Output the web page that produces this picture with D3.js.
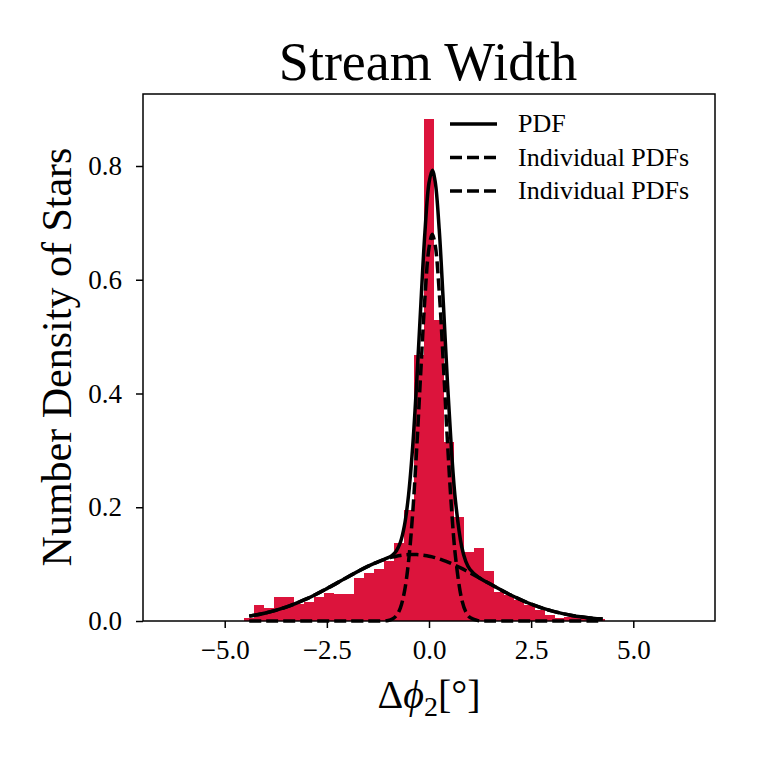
<!DOCTYPE html>
<html>
<head>
<meta charset="utf-8">
<script src="https://cdn.jsdelivr.net/npm/d3@7"></script>
<style>
  body { margin: 0; background: #fff; }
  svg text { font-family: "Liberation Serif", serif; fill: #000; }
</style>
</head>
<body>
<svg id="chart"></svg>
<script>
// histogram of the stream offsets (density per bin)
const binStart = -4.53
const binWidth = 0.245
const binHeights = [
    0.006, 0.029, 0.023, 0.042, 0.042, 0.030, 0.033, 0.042, 0.049, 0.047,
    0.047, 0.076, 0.085, 0.092, 0.105, 0.137, 0.195, 0.468, 0.8825, 0.530,
    0.315, 0.183, 0.121, 0.128, 0.088, 0.051, 0.045, 0.037, 0.028, 0.019,
    0.011, 0.006, 0.007, 0.007, 0.005, 0.004
]

// curves
const curveX = [-4.4, -4.0, -3.5, -3.0, -2.5, -2.0, -1.5, -1.2, -1.0, -0.9, -0.8, -0.7, -0.6, -0.5,
    -0.4, -0.3, -0.2, -0.1, 0.0, 0.08, 0.15, 0.25, 0.35, 0.45, 0.55, 0.65, 0.8, 0.9, 1.0, 1.2,
    1.5, 2.0, 2.5, 3.0, 3.5, 4.0, 4.25]
const pdfTotal = [0.0086, 0.0141, 0.0244, 0.0388, 0.0570, 0.0770, 0.0960, 0.1055, 0.1114, 0.1156,
    0.1232, 0.1384, 0.1683, 0.2217, 0.3060, 0.4217, 0.5561, 0.6833, 0.7703, 0.7927, 0.7731,
    0.6884, 0.5603, 0.4218, 0.3003, 0.2096, 0.1307, 0.1050, 0.0911, 0.0777, 0.0649, 0.0457,
    0.0296, 0.0177, 0.0098, 0.0050, 0.0034]
const pdfBroad = [0.0086, 0.0141, 0.0244, 0.0388, 0.0570, 0.0770, 0.0960, 0.1054, 0.1103, 0.1123,
    0.1140, 0.1153, 0.1162, 0.1168, 0.1170, 0.1168, 0.1162, 0.1153, 0.1140, 0.1127, 0.1114,
    0.1092, 0.1067, 0.1040, 0.1010, 0.0977, 0.0925, 0.0888, 0.0850, 0.0770, 0.0649, 0.0457,
    0.0296, 0.0177, 0.0098, 0.0050, 0.0034]
const pdfNarrow = [0, 0, 0, 0, 0, 0, 0, 0.0001, 0.0010, 0.0033, 0.0092, 0.0232, 0.0521, 0.1049,
    0.1890, 0.3048, 0.4399, 0.5680, 0.6563, 0.6800, 0.6617, 0.5792, 0.4536, 0.3178, 0.1993,
    0.1119, 0.0382, 0.0162, 0.0062, 0.0006, 0, 0, 0, 0, 0, 0, 0]

const xTicks = [-5, -2.5, 0, 2.5, 5]
const yTicks = [0, 0.2, 0.4, 0.6, 0.8]
const legendLabels = ["PDF", "Individual PDFs", "Individual PDFs"]

const width = 758
const height = 758
const margin = ({top: 94, right: 43, bottom: 137, left: 143})

const svg = d3.select("#chart")
    .attr("width", width)
    .attr("height", height)
    .attr("viewBox", [0, 0, width, height])

const x = d3.scaleLinear()
    .domain([-7, 7])
    .range([margin.left, width - margin.right])

const y = d3.scaleLinear()
    .domain([0, 0.9266])
    .range([height - margin.bottom, margin.top])

// bars
svg.append("g")
    .attr("fill", "#dc143c")
    .attr("shape-rendering", "crispEdges")
    .selectAll("rect")
    .data(binHeights)
    .join("rect")
    .attr("x", (d, i) => x(binStart + i * binWidth))
    .attr("width", (d, i) => x(binStart + (i + 1) * binWidth) - x(binStart + i * binWidth) + 0.3)
    .attr("y", d => y(d))
    .attr("height", d => y(0) - y(d))

const lineOf = values => d3.line()
    .x((d, i) => x(curveX[i]))
    .y(d => y(d))
    .curve(d3.curveCatmullRom)(values)

svg.append("path")
    .attr("d", lineOf(pdfTotal))
    .attr("fill", "none")
    .attr("stroke", "black")
    .attr("stroke-width", 3.5)

svg.append("path")
    .attr("d", lineOf(pdfBroad))
    .attr("fill", "none")
    .attr("stroke", "black")
    .attr("stroke-width", 3.5)
    .attr("stroke-dasharray", "12,5")

svg.append("path")
    .attr("d", lineOf(pdfNarrow))
    .attr("fill", "none")
    .attr("stroke", "black")
    .attr("stroke-width", 3.5)
    .attr("stroke-dasharray", "12,5")

// axes
const xAxis = g => g
    .attr("transform", `translate(0,${height - margin.bottom})`)
    .call(d3.axisBottom(x).tickValues(xTicks).tickFormat(d3.format(".1f")).tickSize(7).tickPadding(12))
    .call(g => g.select(".domain").remove())
    .call(g => g.selectAll(".tick line").attr("stroke-width", 1.5))
    .call(g => g.selectAll("text").attr("font-size", 27).attr("font-family", "Liberation Serif"))

const yAxis = g => g
    .attr("transform", `translate(${margin.left},0)`)
    .call(d3.axisLeft(y).tickValues(yTicks).tickFormat(d3.format(".1f")).tickSize(7).tickPadding(14))
    .call(g => g.select(".domain").remove())
    .call(g => g.selectAll(".tick line").attr("stroke-width", 1.5))
    .call(g => g.selectAll("text").attr("font-size", 27).attr("font-family", "Liberation Serif"))

svg.append("g").call(xAxis)
svg.append("g").call(yAxis)

// frame
svg.append("rect")
    .attr("x", margin.left)
    .attr("y", margin.top)
    .attr("width", width - margin.left - margin.right)
    .attr("height", height - margin.top - margin.bottom)
    .attr("fill", "none")
    .attr("stroke", "black")
    .attr("stroke-width", 1.5)

// legend
const legend = svg.append("g")
    .selectAll("g")
    .data(legendLabels)
    .join("g")
    .attr("transform", (d, i) => `translate(450,${124 + i * 33.5})`)

legend.append("line")
    .attr("x1", 0)
    .attr("x2", 47)
    .attr("stroke", "black")
    .attr("stroke-width", 3.5)
    .attr("stroke-dasharray", (d, i) => i === 0 ? null : "12,5")

legend.append("text")
    .attr("x", 68)
    .attr("dy", "0.32em")
    .attr("font-size", 26)
    .text(d => d)

// titles
svg.append("text")
    .attr("x", 428)
    .attr("y", 80)
    .attr("text-anchor", "middle")
    .attr("font-size", 54)
    .text("Stream Width")

svg.append("text")
    .attr("transform", "translate(71,357) rotate(-90)")
    .attr("text-anchor", "middle")
    .attr("font-size", 42)
    .text("Number Density of Stars")

const xl = svg.append("text")
    .attr("x", 429)
    .attr("y", 708)
    .attr("text-anchor", "middle")
    .attr("font-size", 40)
xl.append("tspan").text("Δ")
xl.append("tspan").attr("font-style", "italic").text("ϕ")
xl.append("tspan").attr("font-size", 28).attr("dy", 8).text("2")
xl.append("tspan").attr("dy", -8).text("[°]")
</script>
</body>
</html>
